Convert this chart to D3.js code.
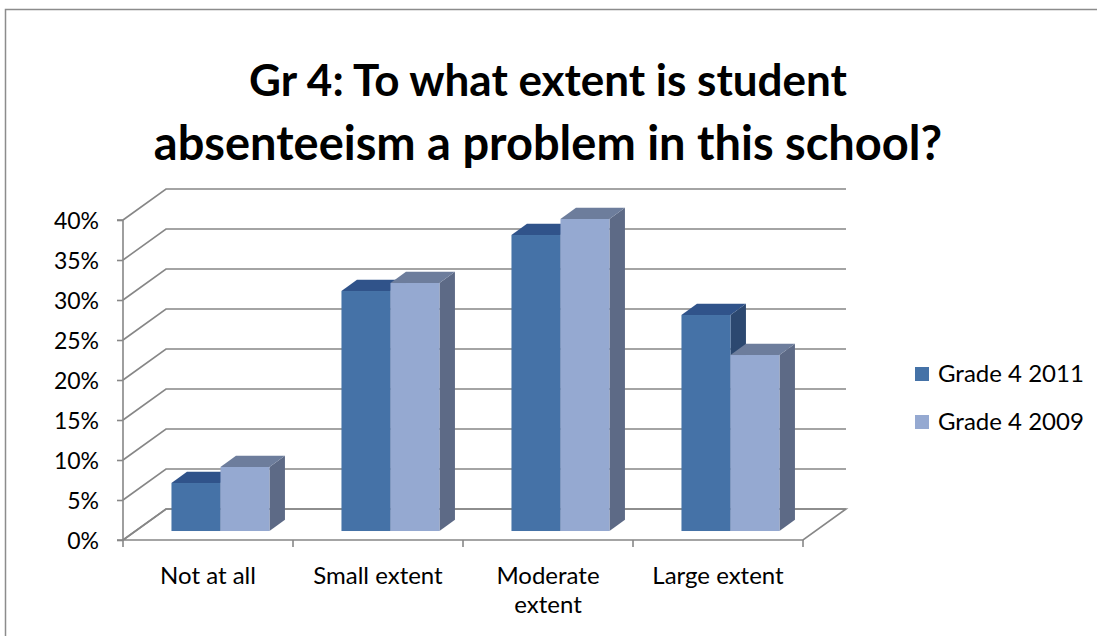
<!DOCTYPE html>
<html lang="en">
<head>
<meta charset="UTF-8">
<title>Gr 4 absenteeism</title>
<script src="https://d3js.org/d3.v7.min.js"></script>
<style>
  body { margin: 0; padding: 0; background: #fff; }
  svg { display: block; }
  text { font-family: Lato, "Open Sans", sans-serif; fill: #000; }
</style>
</head>
<body>
<svg id="chart" width="1097" height="636"></svg>
<script>
// data
const categories = ["Not at all", "Small extent", "Moderate extent", "Large extent"];
const seriesNames = ["Grade 4 2011", "Grade 4 2009"];
const grade2011 = [6, 30, 37, 27];
const grade2009 = [8, 31, 39, 22];
const yTicks = [0, 5, 10, 15, 20, 25, 30, 35, 40];
const titleLines = ["Gr 4: To what extent is student", "absenteeism a problem in this school?"];

const W = 1097, H = 636;
const svg = d3.select('#chart');

// oblique depth vector for the 3D box
const DX = 43, DY = 31;
const plot = { left: 123, right: 803, bottom: 540, top: 220 };

const y = d3.scaleLinear().domain([0, 40]).range([plot.bottom, plot.top]);
const x0 = d3.scaleBand().domain(categories).range([plot.left, plot.right]);
const groupW = 98;
const x1 = d3.scaleBand().domain(seriesNames).range([0, groupW]);

const P = (px, v, z) => [px + DX * z, y(v) - DY * z];

const faceColors = {
  "Grade 4 2011": { front: "#4572a7", top: "#30538a", side: "#2c4870" },
  "Grade 4 2009": { front: "#95a9d1", top: "#6d7d9c", side: "#5d6a86" }
};

// outer frame
svg.append('rect')
  .attr('x', 5.5).attr('y', 9.5)
  .attr('width', W + 10).attr('height', H + 10)
  .attr('fill', 'none').attr('stroke', '#8c8c8c').attr('stroke-width', 1.5);

// title
svg.append('g').selectAll('text')
  .data(titleLines)
  .join('text')
  .attr('x', 548)
  .attr('y', (d, i) => 96 + i * 64)
  .attr('text-anchor', 'middle')
  .style('font-size', (d, i) => i === 0 ? '44px' : '47px')
  .style('font-weight', 'bold')
  .text(d => d);

const gridColor = '#878787';
const grid = svg.append('g').attr('fill', 'none').attr('stroke', gridColor).attr('stroke-width', 1.6);

// back wall + side wall gridlines
yTicks.forEach(t => {
  const a = P(plot.left, t, 0), b = P(plot.left, t, 1), c = P(plot.right, t, 1);
  grid.append('path').attr('d', d3.line()([a, b, c]));
});

// floor outline
const floor = [P(plot.left, 0, 0), P(plot.right, 0, 0), P(plot.right, 0, 1), P(plot.left, 0, 1)];
grid.append('path').attr('d', d3.line()(floor) + 'Z');

// vertical axis
const yAxis = svg.append('g')
  .attr('transform', `translate(${plot.left},0)`)
  .call(d3.axisLeft(y).tickValues(yTicks).tickSize(6).tickPadding(18).tickFormat(d => d + '%'));
yAxis.selectAll('path, line').attr('stroke', gridColor).attr('stroke-width', 1.6);
yAxis.select('.domain').attr('d', `M-6,${plot.top}H0V${plot.bottom}H-6`);
yAxis.selectAll('text').style('font-size', '23px').attr('dy', '0.36em').style('font-family', 'Lato, sans-serif');

// category axis ticks
const xTickPos = categories.map(c => x0(c)).concat([plot.right]);
svg.append('g').selectAll('line')
  .data(xTickPos)
  .join('line')
  .attr('x1', d => d).attr('x2', d => d)
  .attr('y1', plot.bottom).attr('y2', plot.bottom + 7)
  .attr('stroke', gridColor).attr('stroke-width', 1.6);

// category labels (wrap long ones)
const catG = svg.append('g');
categories.forEach(c => {
  const t = catG.append('text')
    .attr('x', x0(c) + x0.bandwidth() / 2)
    .attr('y', 584)
    .attr('text-anchor', 'middle')
    .style('font-size', '24px')
    .text(c);
  if (t.node().getComputedTextLength() > 155) {
    const words = c.split(' ');
    t.text(null);
    words.forEach((w, i) => {
      t.append('tspan').attr('x', x0(c) + x0.bandwidth() / 2).attr('y', 584 + i * 29).text(w);
    });
  }
});

// bars
const z0 = 0.29, z1 = 0.65;
const bars = [];
categories.forEach((c, i) => {
  bars.push({ cat: c, s: seriesNames[0], v: grade2011[i] });
  bars.push({ cat: c, s: seriesNames[1], v: grade2009[i] });
});

const barG = svg.append('g');
bars.forEach(d => {
  const xl = x0(d.cat) + (x0.bandwidth() - groupW) / 2 + x1(d.s);
  const xr = xl + x1.bandwidth();
  const col = faceColors[d.s];
  const g = barG.append('g');
  // side face
  g.append('path')
    .attr('d', d3.line()([P(xr, 0, z0), P(xr, d.v, z0), P(xr, d.v, z1), P(xr, 0, z1)]) + 'Z')
    .attr('fill', col.side);
  // top face
  g.append('path')
    .attr('d', d3.line()([P(xl, d.v, z0), P(xr, d.v, z0), P(xr, d.v, z1), P(xl, d.v, z1)]) + 'Z')
    .attr('fill', col.top);
  // front face
  const f0 = P(xl, d.v, z0), f1 = P(xr, 0, z0);
  g.append('rect')
    .attr('x', f0[0]).attr('y', f0[1])
    .attr('width', f1[0] - f0[0]).attr('height', f1[1] - f0[1])
    .attr('fill', col.front);
});

// legend
const legend = svg.append('g').attr('transform', 'translate(915,367)');
seriesNames.forEach((s, i) => {
  const row = legend.append('g').attr('transform', `translate(0,${i * 48})`);
  row.append('rect').attr('width', 14).attr('height', 14).attr('fill', faceColors[s].front);
  row.append('text').attr('x', 23).attr('y', 15).style('font-size', '24px').text(s);
});
</script>
</body>
</html>
